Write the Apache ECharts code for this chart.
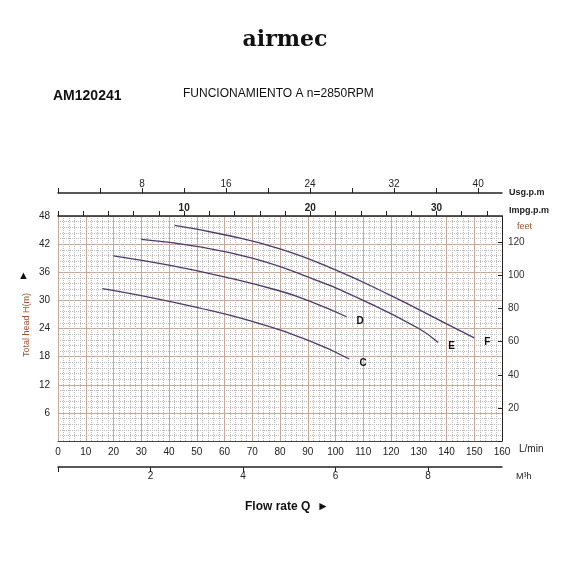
<!DOCTYPE html><html><head><meta charset="utf-8"><script src="https://cdn.jsdelivr.net/npm/echarts@6/dist/echarts.min.js"></script>
<style>body{margin:0;background:#fff}#c{width:570px;height:570px}</style></head><body><div id="c"></div><script>
const curveNames=['C','D','E','F'];
const flowC=[16,30,50,70,90,105], headC=[32.5,31,28.5,25.5,21.5,17.5];
const flowD=[20,40,60,80,90,104], headD=[39.5,37.5,35,32,30,26.5];
const flowE=[30,50,70,90,110,130,137], headE=[43,41.5,39,35,30,24,21];
const flowF=[42,60,80,100,120,140,150], headF=[46,44,41,36.5,31,25,22];
const LPM_PER_IMP=4.546, LPM_PER_US=3.785, LPM_PER_M3H=16.667, FEET_AT_TOP=136;
const brown='#a0522d', grid='#c9a898';
const chart=echarts.init(document.getElementById('c'));
const mk=(fs,hs)=>fs.map((f,i)=>[f,hs[i]]);
const sets=[mk(flowC,headC),mk(flowD,headD),mk(flowE,headE),mk(flowF,headF)];
const axBase={axisLine:{show:true,onZero:false,lineStyle:{color:'#222',width:1.5}},axisTick:{show:true,length:5,lineStyle:{color:'#222'}},splitLine:{show:false}};
const txt=(x,y,t,o)=>Object.assign({type:'text',x:x,y:y,style:Object.assign({text:t,fontSize:9,fontWeight:'bold',fill:'#222'},o||{})});
chart.setOption({animation:false,
title:[{text:'airmec',left:'center',top:24,textStyle:{fontFamily:'DejaVu Serif',fontSize:22,fontWeight:'bold',color:'#111'}},
{text:'AM120241',left:48,top:84,textStyle:{fontFamily:'Liberation Sans',fontSize:14,fontWeight:'bold',color:'#111'}},
{text:'FUNCIONAMIENTO A n=2850RPM',left:178,top:83,textStyle:{fontFamily:'Liberation Sans',fontSize:12,fontWeight:'normal',color:'#111'}},
{text:'Flow rate Q  ►',left:240,top:496,textStyle:{fontSize:12,fontWeight:'bold',color:'#111'}}],
graphic:[{type:'text',left:18,top:270,style:{text:'▲',fontSize:11,fill:'#111'}},
{type:'text',x:27,y:325,rotation:Math.PI/2,style:{text:'Total head H(m)',fontSize:9,fill:brown,align:'center',verticalAlign:'middle'}},
txt(509,193,'Usg.p.m',{verticalAlign:'middle'}),txt(509,211,'Impg.p.m',{verticalAlign:'middle'}),
txt(517,227,'feet',{fontWeight:'normal',fill:brown,verticalAlign:'middle'}),
txt(519,449,'L/min',{fontWeight:'normal',fontSize:10,verticalAlign:'middle'}),
txt(516,477,'M³h',{fontWeight:'normal',verticalAlign:'middle'})],
grid:{left:58,right:68,top:216,bottom:129},
xAxis:[{type:'value',position:'bottom',min:0,max:160,interval:10,
 axisLine:{show:true,onZero:false,lineStyle:{color:'#444'}},axisTick:{show:false},axisLabel:{fontSize:10,color:'#222',margin:6},
 splitLine:{show:true,lineStyle:{color:grid,width:1}},minorTick:{show:true,splitNumber:5,length:0},minorSplitLine:{show:true,lineStyle:{color:'#bbb',type:'dotted'}}},
 Object.assign({},axBase,{type:'value',position:'top',min:0,max:160/LPM_PER_IMP,interval:2,
 axisLabel:{showMaxLabel:false,color:'#222',fontSize:10,fontWeight:'bold',margin:3,formatter:v=>v%10===0&&v>0?v:''}}),
 Object.assign({},axBase,{type:'value',position:'top',offset:23,min:0,max:160/LPM_PER_US,interval:4,
 axisLabel:{showMaxLabel:false,color:'#222',fontSize:10,margin:4,formatter:v=>v%8===0&&v>0?v:''}}),
 Object.assign({},axBase,{type:'value',position:'bottom',offset:26,min:0,max:160/LPM_PER_M3H,interval:2,
 axisLabel:{showMaxLabel:false,color:'#222',fontSize:10,margin:4,formatter:v=>v>0?v:''}})],
yAxis:[{type:'value',min:0,max:48,interval:6,axisLine:{show:true,onZero:false,lineStyle:{color:grid}},axisTick:{show:false},
 axisLabel:{fontSize:10,color:'#222',formatter:v=>v>0?v:''},splitLine:{show:true,lineStyle:{color:grid}},
 minorTick:{show:true,splitNumber:5,length:0},minorSplitLine:{show:true,lineStyle:{color:'#bbb',type:'dotted'}}},
 {type:'value',position:'right',min:0,max:FEET_AT_TOP,interval:20,axisLine:{show:true,onZero:false,lineStyle:{color:'#222'}},axisTick:{show:true,inside:true,length:4,lineStyle:{color:'#222'}},
 axisLabel:{showMaxLabel:false,fontSize:10,color:'#333',margin:6,formatter:v=>v>0&&v<=120?v:''},splitLine:{show:false}}],
series:sets.map((d,i)=>({type:'line',name:curveNames[i],data:d,smooth:true,showSymbol:false,xAxisIndex:0,yAxisIndex:0,
 lineStyle:{color:'#4a3a6a',width:1.3},
 endLabel:{show:true,formatter:curveNames[i],fontSize:10,fontWeight:'bold',color:'#111',offset:[2,4]}}))
});
</script></body></html>
